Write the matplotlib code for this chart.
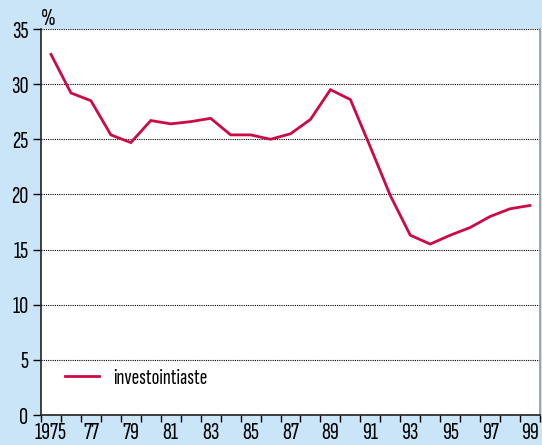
import matplotlib
matplotlib.use("Agg")
import matplotlib.pyplot as plt
import numpy as np

# data
years = np.arange(1975, 2000)
rate = [32.7, 29.2, 28.5, 25.4, 24.7, 26.7, 26.4, 26.6, 26.9, 25.4, 25.4, 25.0,
        25.5, 26.8, 29.5, 28.6, 24.3, 19.9, 16.3, 15.5, 16.3, 17.0, 18.0, 18.7, 19.0]
label_years = np.arange(1975, 2000, 2)
tick_labels = ["1975"] + ["%02d" % (y % 100) for y in label_years[1:]]
series_name = "investointiaste"

bg = "#cae5f7"
red = "#cc0a45"
plt.rcParams['font.family'] = ['Sofia Sans Extra Condensed', 'Fira Sans Extra Condensed', 'DejaVu Sans']
plt.rcParams['font.weight'] = 600
fs = 18

fig = plt.figure(figsize=(5.42, 4.45), dpi=100, facecolor=bg)
ax = fig.add_axes([41/542, 30/445, 499/542, 386/445])
ax.set_facecolor("white")

# points sit mid-year, ticks on year boundaries
ax.plot(years + 0.5, rate, color=red, lw=2.0, label=series_name,
        solid_joinstyle="miter", zorder=3)

ax.set_xlim(1975, 2000)
ax.set_ylim(0, 35)
ax.set_yticks(np.arange(0, 36, 5))
ax.set_xticks(np.arange(1975, 2001), minor=False)
ax.set_xticklabels([])
ax.set_xticks(label_years + 0.5, minor=True)
ax.set_xticklabels(tick_labels, minor=True)
ax.tick_params(axis="x", which="major", length=5, width=1, direction="out")
ax.tick_params(axis="x", which="minor", length=0, pad=5, labelsize=fs)
ax.tick_params(axis="y", length=6, width=1, labelsize=fs, pad=3)

ax.yaxis.grid(True, color="black", lw=0.8, ls=(0, (1, 1)))
for s in ("left", "bottom"):
    ax.spines[s].set_linewidth(1.2)
    ax.spines[s].set_color("#222222")
ax.spines["top"].set_visible(False)
ax.spines["right"].set_color("#8a9aa6")
ax.spines["right"].set_linewidth(1.2)

ax.text(0.0, 1.011, "%", transform=ax.transAxes, fontsize=fs, ha="left", va="baseline")

ax.legend(loc="center left", bbox_to_anchor=(0.048, 0.096), frameon=False, fontsize=16.5,
          handlelength=1.5, handletextpad=0.6, borderpad=0, borderaxespad=0)

fig.savefig("out.png", dpi=100, facecolor=bg)
